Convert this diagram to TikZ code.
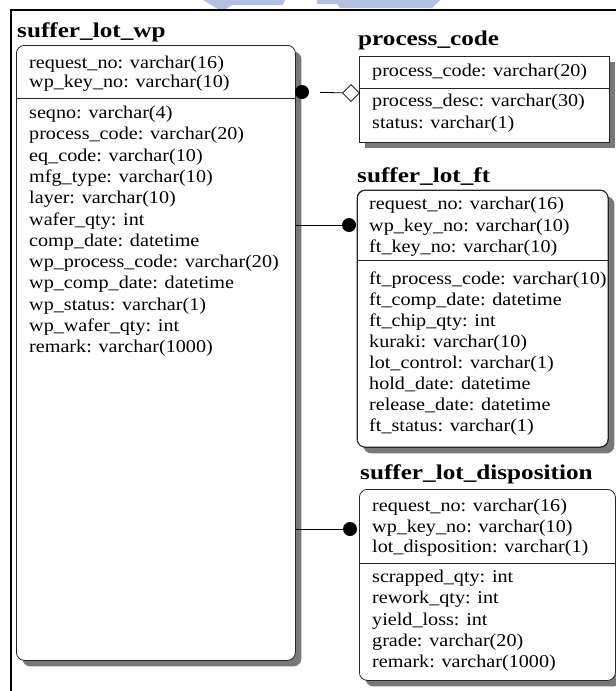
\documentclass[tikz,border=0pt]{standalone}
\usepackage{fontspec}
\setmainfont[FakeStretch=1.12]{Liberation Serif}
\newfontfamily\titlefont[FakeStretch=1.2]{Liberation Serif}
\usetikzlibrary{shapes.geometric,shadows}
\definecolor{crest}{RGB}{178,192,228}
\definecolor{shadowgray}{RGB}{120,120,120}
\begin{document}
\begin{tikzpicture}[x=1pt,y=-1pt,
  tbl/.style={draw=black!85, line width=0.8pt, fill=white, anchor=north west, inner sep=0pt,
    general shadow={fill=shadowgray, shadow xshift=6pt, shadow yshift=-6pt}},
  rtbl/.style={tbl, rounded corners=8pt},
  fld/.style={anchor=west, inner sep=0pt, text height=12.6pt, text depth=3.6pt,
    font=\fontsize{18}{21}\selectfont},
  ttl/.style={anchor=base west, inner sep=0pt, font=\titlefont\bfseries\fontsize{21}{25}\selectfont},
  sep/.style={draw=black!85, line width=0.8pt},
  link/.style={draw=black, line width=0.8pt},
  onedot/.style={circle, fill=black, inner sep=0pt, minimum size=14pt},
  opendiamond/.style={diamond, draw=black, fill=white, line width=0.6pt, inner sep=0pt, minimum size=17pt}]
\useasboundingbox (0,0) rectangle (616,691);

% crest fragment along the top edge
\fill[crest] (203,0) -- (285,0) -- (283,5) -- (232,5) -- (226,9) -- (218,9) -- cycle;
\fill[crest] (317,0) -- (440,0) -- (432,8) -- (340,8) -- (337,4) -- (317,4) -- cycle;

% frame
\draw[line width=2pt] (11,691) -- (11,10) -- (616,10);

% ---------------- suffer_lot_wp
\node[ttl] (wpt) at (17,37) {suffer\_lot\_wp};
\node[rtbl, minimum width=279pt, minimum height=615pt] (wp) at (16,45) {};
\draw[sep] (16,98) -- (295,98);
\node[fld] (wpk1) at (29,64) {request\_no: varchar(16)};
\node[fld] (wpk2) at (29,83) {wp\_key\_no: varchar(10)};
\foreach \txt [count=\i] in {seqno: varchar(4), process\_code: varchar(20), eq\_code: varchar(10),
    mfg\_type: varchar(10), layer: varchar(10), wafer\_qty: int, comp\_date: datetime,
    wp\_process\_code: varchar(20), wp\_comp\_date: datetime, wp\_status: varchar(1),
    wp\_wafer\_qty: int, remark: varchar(1000)}
  \node[fld] (wpa\i) at (29,{114+21.3*(\i-1)}) {\txt};

% ---------------- process_code
\node[ttl] (pct) at (358,45) {process\_code};
\node[tbl, minimum width=250pt, minimum height=86pt] (pc) at (359,56) {};
\draw[sep] (359,88) -- (609,88);
\node[fld] (pck1) at (372,72) {process\_code: varchar(20)};
\node[fld] (pca1) at (372,102) {process\_desc: varchar(30)};
\node[fld] (pca2) at (372,124) {status: varchar(1)};

% ---------------- suffer_lot_ft
\node[ttl] (ftt) at (357,182) {suffer\_lot\_ft};
\node[rtbl, minimum width=251pt, minimum height=257pt] (ft) at (357,190) {};
\draw[sep] (357,260) -- (608,260);
\node[fld] (ftk1) at (369,205) {request\_no: varchar(16)};
\node[fld] (ftk2) at (369,227) {wp\_key\_no: varchar(10)};
\node[fld] (ftk3) at (369,248) {ft\_key\_no: varchar(10)};
\begin{scope}
  \clip (357,262) rectangle (607.6,445);
  \foreach \txt [count=\i] in {ft\_process\_code: varchar(10), ft\_comp\_date: datetime,
      ft\_chip\_qty: int, kuraki: varchar(10), lot\_control: varchar(1), hold\_date: datetime,
      release\_date: datetime, ft\_status: varchar(1)}
    \node[fld] (fta\i) at (369,{280+21*(\i-1)}) {\txt};
\end{scope}
\draw[draw=black!85, line width=0.8pt, rounded corners=8pt] (357,190) rectangle (608,447);

% ---------------- suffer_lot_disposition
\node[ttl] (dpt) at (360,479) {suffer\_lot\_disposition};
\node[rtbl, minimum width=256pt, minimum height=191pt] (dp) at (359,489) {};
\draw[sep] (359,563) -- (615,563);
\node[fld] (dpk1) at (372,507) {request\_no: varchar(16)};
\node[fld] (dpk2) at (372,528) {wp\_key\_no: varchar(10)};
\node[fld] (dpk3) at (372,548) {lot\_disposition: varchar(1)};
\foreach \txt [count=\i] in {scrapped\_qty: int, rework\_qty: int, yield\_loss: int,
    grade: varchar(20), remark: varchar(1000)}
  \node[fld] (dpa\i) at (372,{578+21.3*(\i-1)}) {\txt};

% ---------------- relationships
\node[onedot] (d1) at (302,92) {};
\node[opendiamond] (m1) at (351,93) {};
\draw[link, shorten <=11pt] (d1) -- (m1);

\node[onedot] (d2) at (349,225) {};
\draw[link] (wp.east |- d2) -- (d2);

\node[onedot] (d3) at (350,529) {};
\draw[link] (wp.east |- d3) -- (d3);
\end{tikzpicture}
\end{document}
